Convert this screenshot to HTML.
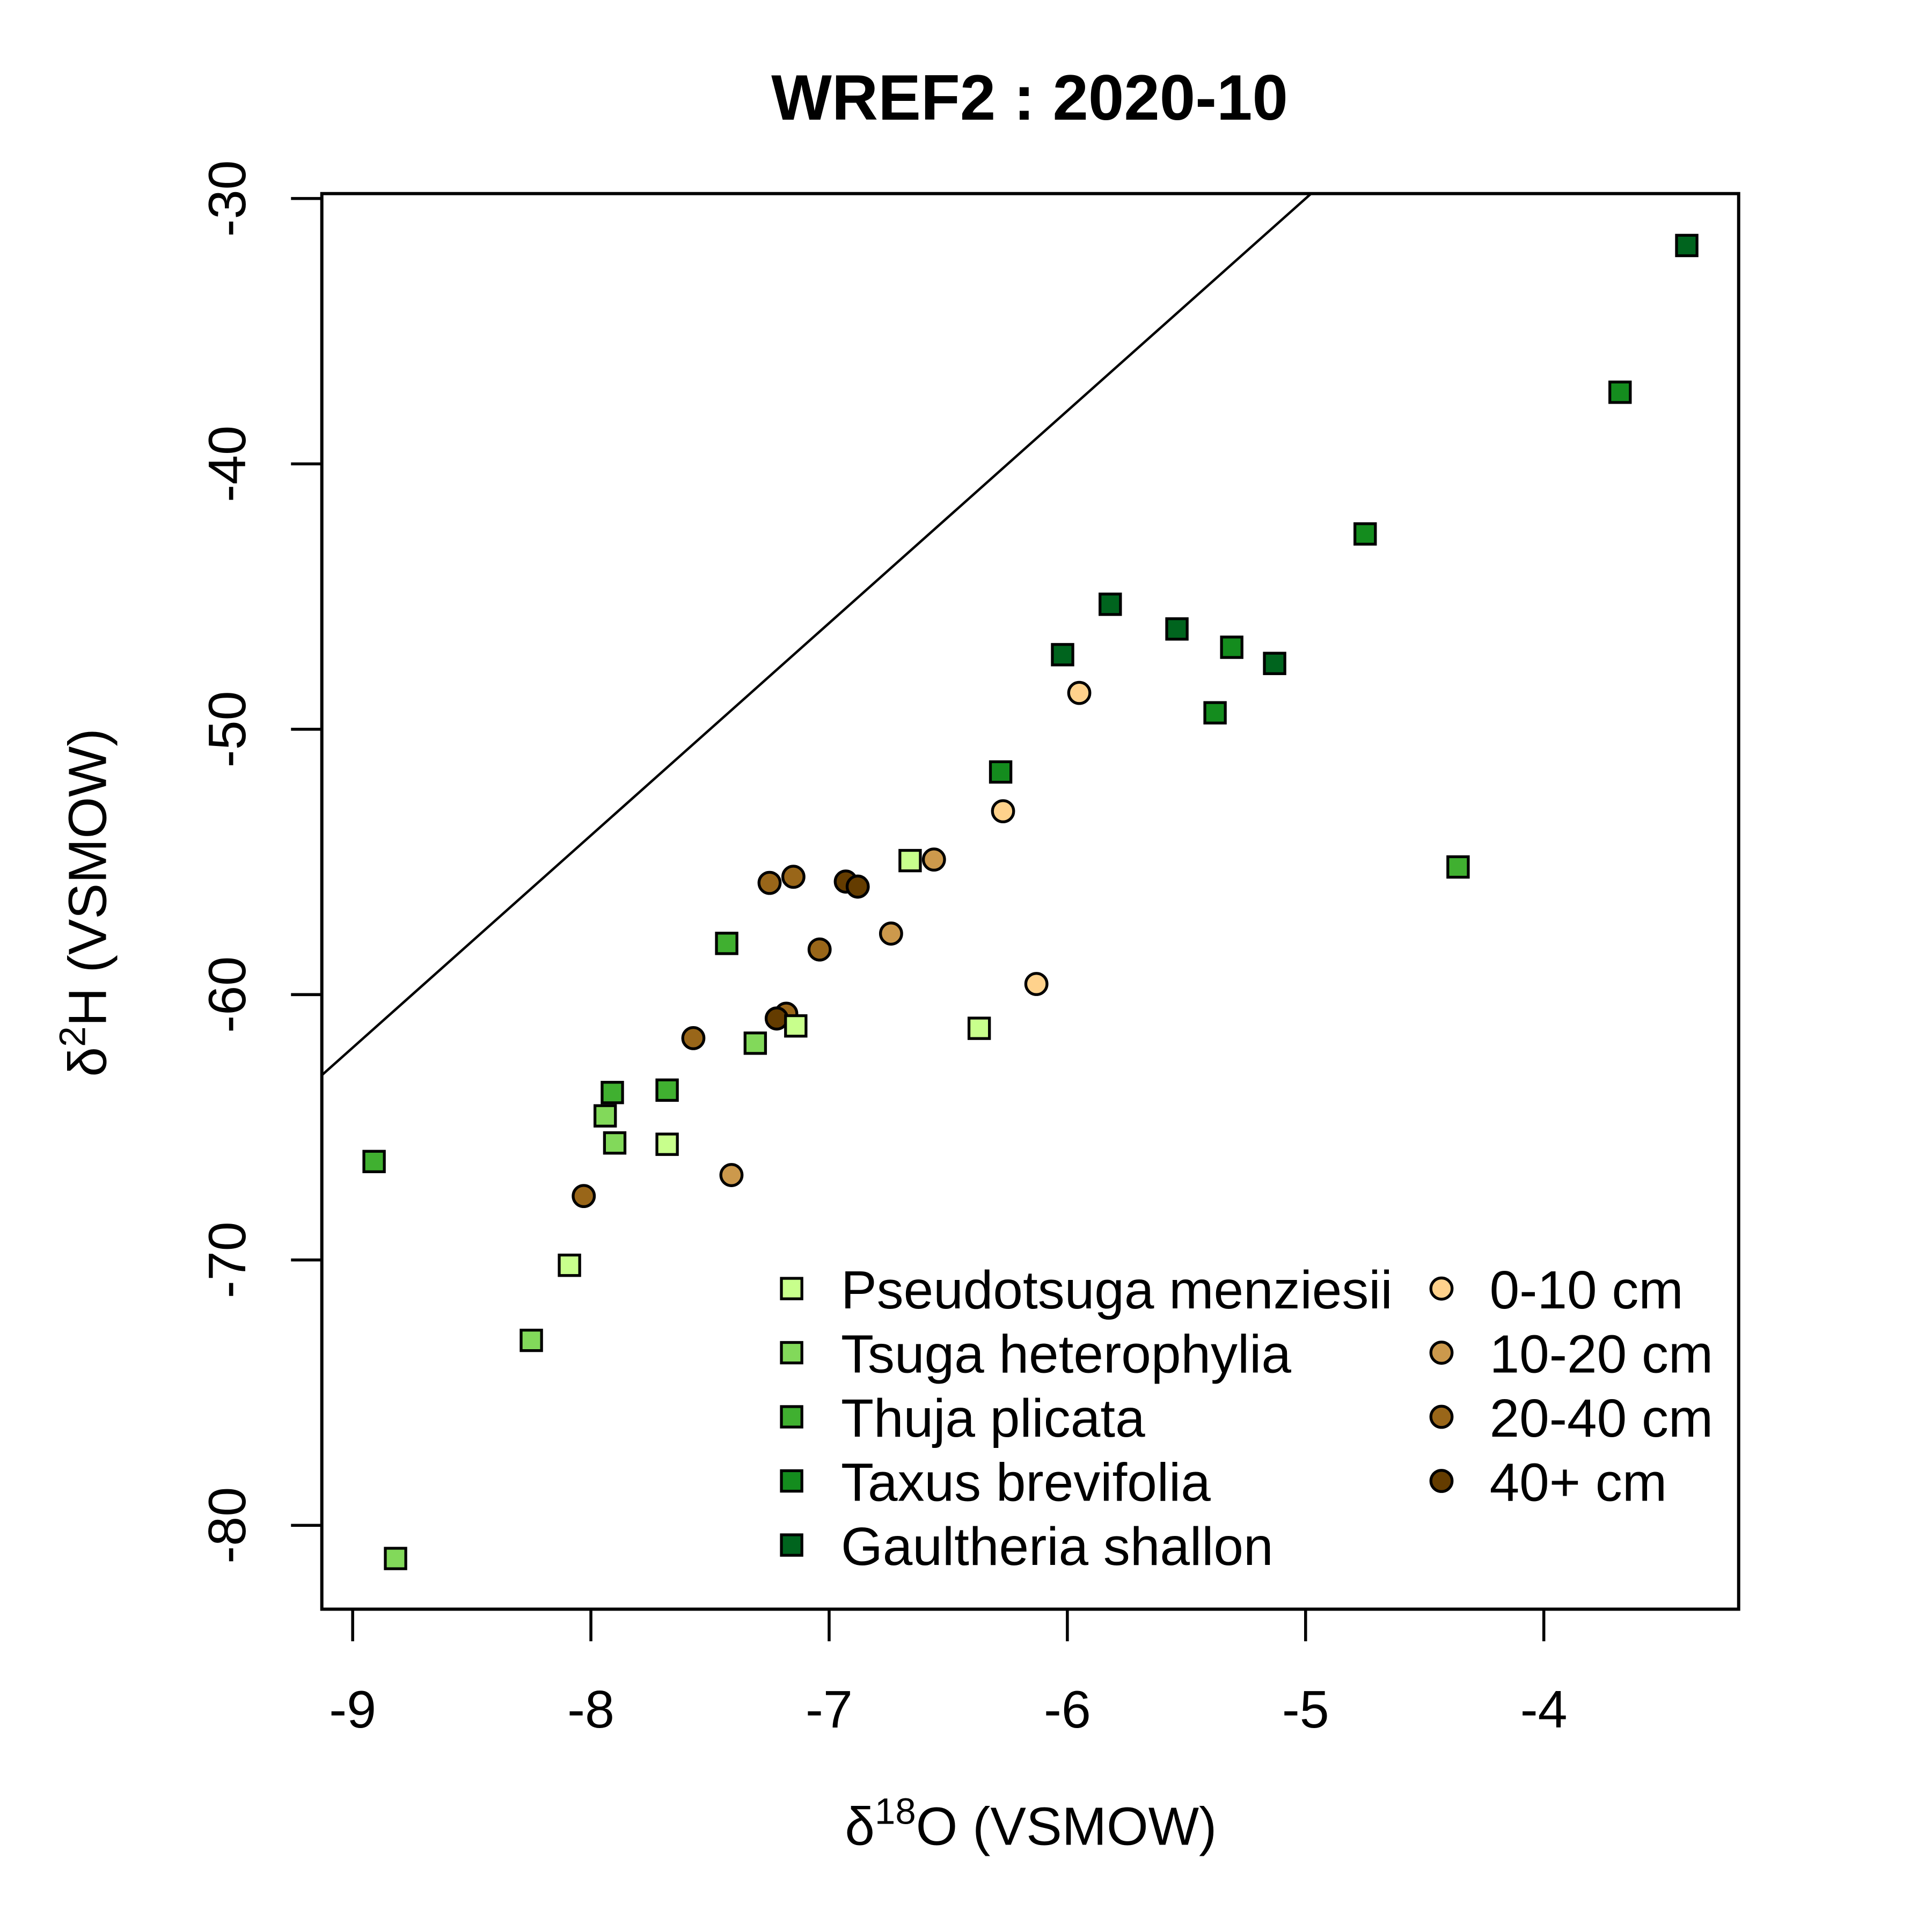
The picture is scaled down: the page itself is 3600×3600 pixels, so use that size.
<!DOCTYPE html>
<html><head><meta charset="utf-8"><style>html,body{margin:0;padding:0;background:#fff}svg{display:block}</style></head>
<body>
<svg id="chart" width="3600" height="3600" viewBox="0 0 1566.8 1566.8" xmlns="http://www.w3.org/2000/svg" font-family="Liberation Sans, Arial, sans-serif">
<rect width="1566.8" height="1566.8" fill="#fff"/>
<text x="835" y="97" font-size="52" font-weight="bold" text-anchor="middle">WREF2 : 2020-10</text>
<g id="axes"></g>
<g id="marks"></g>
<text x="836" y="1496" font-size="43.5" text-anchor="middle">δ<tspan font-size="30" dy="-17">18</tspan><tspan dy="17">O (VSMOW)</tspan></text>
<text transform="translate(86,732) rotate(-90)" font-size="43.5" text-anchor="middle">δ<tspan font-size="30" dy="-17">2</tspan><tspan dy="17">H (VSMOW)</tspan></text>
<g id="legend"></g>
</svg>
<script>
const xTicks = [-9, -8, -7, -6, -5, -4];
const yTicks = [-30, -40, -50, -60, -70, -80];
const speciesNames = ["Pseudotsuga menziesii", "Tsuga heterophylia", "Thuja plicata", "Taxus brevifolia", "Gaultheria shallon"];
const speciesColors = ["#c8ff8c", "#82d95a", "#40b030", "#148c1e", "#00641e"];
const depthNames = ["0-10 cm", "10-20 cm", "20-40 cm", "40+ cm"];
const depthColors = ["#ffd28c", "#cc994c", "#996619", "#643c00"];
const pseudoX = [-6.66, -6.37, -7.14, -7.68, -8.09];
const pseudoY = [-54.95, -61.27, -61.18, -65.64, -70.20];
const tsugaX = [-7.31, -7.94, -7.90, -8.25, -8.82];
const tsugaY = [-61.83, -64.57, -65.59, -73.03, -81.25];
const thujaX = [-7.43, -7.91, -7.68, -8.91, -4.36];
const thujaY = [-58.07, -63.69, -63.60, -66.29, -55.19];
const taxusX = [-6.28, -5.38, -5.31, -4.75, -3.68];
const taxusY = [-51.61, -49.38, -46.91, -42.64, -37.30];
const gaulX = [-6.02, -5.82, -5.54, -5.13, -3.40];
const gaulY = [-47.19, -45.29, -46.22, -47.52, -31.77];
const d010X = [-5.95, -6.27, -6.13];
const d010Y = [-48.63, -53.09, -59.60];
const d1020X = [-6.56, -6.74, -7.41];
const d1020Y = [-54.91, -57.70, -66.80];
const d2040X = [-7.25, -7.15, -7.04, -7.57, -8.03, -7.18];
const d2040Y = [-55.79, -55.56, -58.30, -61.64, -67.59, -60.72];
const d40X = [-6.93, -6.88, -7.22];
const d40Y = [-55.74, -55.93, -60.90];
const lineSlope = 8, lineIntercept = 10;

const NS = "http://www.w3.org/2000/svg";
const L = 261, R = 1410, T = 157, B = 1305;
function sx(v){ return 286 + (v + 9) * 193.2; }
function sy(v){ return 161 + (-30 - v) * 21.52; }
function mk(tag, attrs, parent){ const e = document.createElementNS(NS, tag); for (const k in attrs) e.setAttribute(k, attrs[k]); parent.appendChild(e); return e; }
const axes = document.getElementById('axes');
const marks = document.getElementById('marks');
const legend = document.getElementById('legend');

const clip = mk('clipPath', {id:'pc'}, axes);
mk('rect', {x:L, y:T, width:R-L, height:B-T}, clip);
const x0 = -9.3, x1 = -2;
const gm = mk('line', {x1:sx(x0), y1:sy(lineSlope*x0+lineIntercept), x2:sx(x1), y2:sy(lineSlope*x1+lineIntercept), stroke:'#000', 'stroke-width':2, 'clip-path':'url(#pc)'}, axes);



const box = mk('rect', {x:L, y:T, width:R-L, height:B-T, fill:'none', stroke:'#000', 'stroke-width':2.6}, axes);



xTicks.forEach(v => {
  const t = mk('line', {x1:sx(v), y1:B, x2:sx(v), y2:B+26, stroke:'#000', 'stroke-width':2.4}, axes);
  
  
  const tx = mk('text', {x:sx(v), y:1401, 'font-size':43, 'text-anchor':'middle'}, axes);
  tx.textContent = String(v);
  
  
});
yTicks.forEach(v => {
  const t = mk('line', {x1:L, y1:sy(v), x2:L-25, y2:sy(v), stroke:'#000', 'stroke-width':2.4}, axes);
  
  
  const tx = mk('text', {transform:'translate(199,'+sy(v)+') rotate(-90)', 'font-size':43, 'text-anchor':'middle'}, axes);
  tx.textContent = String(v);
  
  
});

function circle(cx, cy, color, parent){
  return mk('circle', {cx:cx, cy:cy, r:8.6, fill:color, stroke:'#000', 'stroke-width':2.3}, parent);
}
function square(cx, cy, color, parent){
  return mk('rect', {x:cx-8.3, y:cy-8.3, width:16.6, height:16.6, fill:color, stroke:'#000', 'stroke-width':2.3}, parent);
}
const depthX = [d010X, d1020X, d2040X, d40X], depthY = [d010Y, d1020Y, d2040Y, d40Y];
depthX.forEach((xs, i) => xs.forEach((x, j) => {
  const c = circle(sx(x), sy(depthY[i][j]), depthColors[i], marks);
  
  
}));
const spX = [pseudoX, tsugaX, thujaX, taxusX, gaulX], spY = [pseudoY, tsugaY, thujaY, taxusY, gaulY];
spX.forEach((xs, i) => xs.forEach((x, j) => {
  const s = square(sx(x), sy(spY[i][j]), speciesColors[i], marks);
  
  
}));

speciesNames.forEach((n, i) => {
  const y = 1045 + i * 52;
  const s = square(642, y, speciesColors[i], legend);
  
  
  const t = mk('text', {x:682, y:y+16, 'font-size':43.5}, legend);
  t.textContent = n;
  
  
});
depthNames.forEach((n, i) => {
  const y = 1045 + i * 52;
  const c = circle(1169, y, depthColors[i], legend);
  
  
  const t = mk('text', {x:1208, y:y+16, 'font-size':43.5}, legend);
  t.textContent = n;
  
  
});
</script>
</body></html>
